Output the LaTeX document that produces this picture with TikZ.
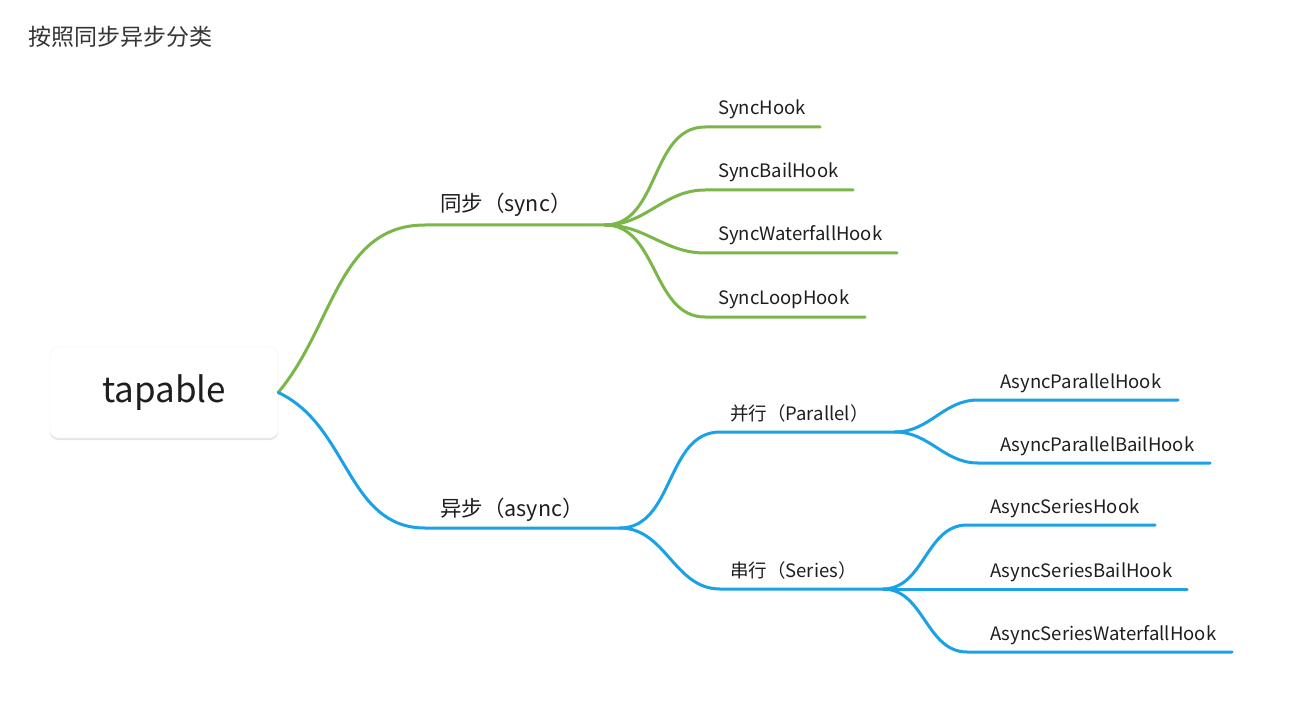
\documentclass[tikz,border=0pt]{standalone}
\usepackage{fontspec}
\setmainfont{Noto Sans CJK SC}
\usetikzlibrary{positioning,shadows}
\definecolor{syncgreen}{HTML}{7AB648}
\definecolor{asyncblue}{HTML}{1BA1E6}
\definecolor{txt}{HTML}{1E1E1E}
\tikzset{topic/.style={anchor=base west,inner sep=0pt,font=\fontsize{18.5}{22}\selectfont,text=txt}}
\tikzset{maintopic/.style={topic,font=\fontsize{21.5}{26}\selectfont}}
\tikzset{rootbox/.style={fill=white,draw=black!5,rounded corners=8pt,minimum width=228pt,minimum height=91pt,
  font=\fontsize{35}{42}\selectfont,text=txt,
  drop shadow={shadow xshift=0pt,shadow yshift=-2pt,opacity=0.10,fill=black}}}
\tikzset{greenline/.style={line width=3pt,color=syncgreen,line cap=round}}
\tikzset{blueline/.style={line width=3pt,color=asyncblue,line cap=round}}

\begin{document}
\begin{tikzpicture}[x=1pt,y=-1pt]
  \useasboundingbox[fill=white] (0,0) rectangle (1314,703);
  \node[anchor=west,inner sep=0pt,font=\fontsize{23}{28}\selectfont,text=txt!90] (title) at (28,37) {按照同步异步分类};
  \node[rootbox] (root) at (164,392.5) {tapable};

  % sync branch
  \coordinate (sync-l) at (425,225);
  \coordinate (sync-r) at (605,225);
  \node[maintopic] (sync) at (440,212) {同步（sync）};
  \draw[greenline] (root.east) to[out=50,in=180] (sync-l) -- (sync-r);
  \foreach \name/\y/\xend in {SyncHook/127/820,SyncBailHook/190/853,SyncWaterfallHook/253/897,SyncLoopHook/317/865}{
    \coordinate (\name-l) at (705,\y);
    \coordinate (\name-r) at (\xend,\y);
    \node[topic] (\name) at (718,\y-12) {\name};
    \draw[greenline] (sync-r) to[out=0,in=180] (\name-l) -- (\name-r);
  }

  % async branch
  \coordinate (async-l) at (425,528);
  \coordinate (async-r) at (620,528);
  \node[maintopic] (async) at (440,516) {异步（async）};
  \draw[blueline] (root.east) to[out=-25,in=180] (async-l) -- (async-r);

  \coordinate (par-l) at (720,432);
  \coordinate (par-r) at (895,432);
  \node[topic] (par) at (730,420) {并行（Parallel）};
  \draw[blueline] (async-r) to[out=0,in=180] (par-l) -- (par-r);
  \coordinate (ser-l) at (720,589);
  \coordinate (ser-r) at (883,589);
  \node[topic] (ser) at (730,577) {串行（Series）};
  \draw[blueline] (async-r) to[out=0,in=180] (ser-l) -- (ser-r);

  \foreach \name/\y/\xend in {AsyncParallelHook/400/1178,AsyncParallelBailHook/463/1210}{
    \coordinate (\name-l) at (978,\y);
    \coordinate (\name-r) at (\xend,\y);
    \node[topic] (\name) at (1000,\y-12) {\name};
    \draw[blueline] (par-r) to[out=0,in=180] (\name-l) -- (\name-r);
  }
  \foreach \name/\y/\xend in {AsyncSeriesHook/525/1155,AsyncSeriesBailHook/589/1187,AsyncSeriesWaterfallHook/652/1232}{
    \coordinate (\name-l) at (967,\y);
    \coordinate (\name-r) at (\xend,\y);
    \node[topic] (\name) at (990,\y-12) {\name};
    \draw[blueline] (ser-r) to[out=0,in=180] (\name-l) -- (\name-r);
  }
\end{tikzpicture}
\end{document}
